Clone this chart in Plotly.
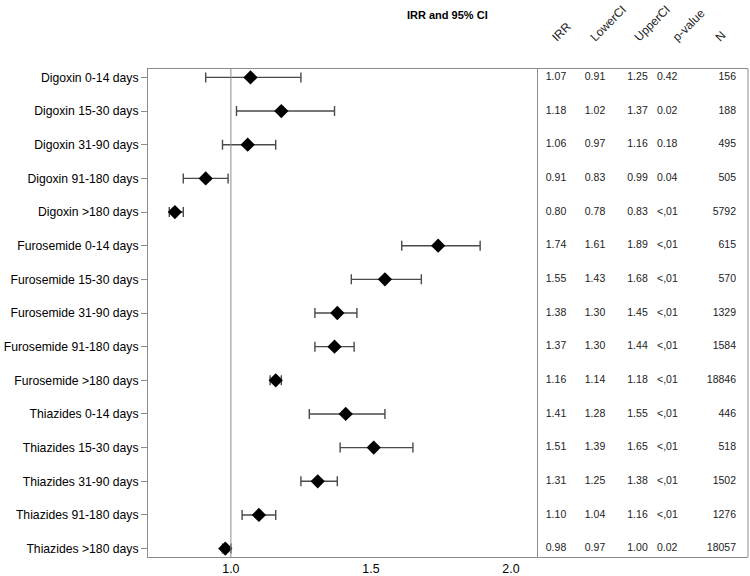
import plotly.graph_objects as go

labels = ["Digoxin 0-14 days", "Digoxin 15-30 days", "Digoxin 31-90 days",
          "Digoxin 91-180 days", "Digoxin >180 days",
          "Furosemide 0-14 days", "Furosemide 15-30 days", "Furosemide 31-90 days",
          "Furosemide 91-180 days", "Furosemide >180 days",
          "Thiazides 0-14 days", "Thiazides 15-30 days", "Thiazides 31-90 days",
          "Thiazides 91-180 days", "Thiazides >180 days"]
irr = [1.07, 1.18, 1.06, 0.91, 0.80, 1.74, 1.55, 1.38, 1.37, 1.16, 1.41, 1.51, 1.31, 1.10, 0.98]
lower = [0.91, 1.02, 0.97, 0.83, 0.78, 1.61, 1.43, 1.30, 1.30, 1.14, 1.28, 1.39, 1.25, 1.04, 0.97]
upper = [1.25, 1.37, 1.16, 0.99, 0.83, 1.89, 1.68, 1.45, 1.44, 1.18, 1.55, 1.65, 1.38, 1.16, 1.00]
pval = ["0.42", "0.02", "0.18", "0.04", "<,01", "<,01", "<,01", "<,01", "<,01", "<,01",
        "<,01", "<,01", "<,01", "<,01", "0.02"]
n_obs = [156, 188, 495, 505, 5792, 615, 570, 1329, 1584, 18846, 446, 518, 1502, 1276, 18057]
headers = ["IRR", "LowerCI", "UpperCI", "p-value", "N"]
xticks = [1.0, 1.5, 2.0]

W, H = 750, 576
FONT = "Liberation Sans, Arial, sans-serif"
GRAY = "#8c8c8c"
L, R, T, B = 148, 537, 69, 557
R2 = 748

def px(x):
    return x / W

def py(y):
    return 1 - y / H

fig = go.Figure()

fig.add_trace(go.Scatter(
    x=irr, y=labels, mode="markers",
    marker=dict(symbol="diamond", size=11, color="black"),
    error_x=dict(type="data", symmetric=False,
                 array=[u - v for u, v in zip(upper, irr)],
                 arrayminus=[v - lo for v, lo in zip(irr, lower)],
                 color="#4a4a4a", thickness=1.4, width=5),
    xaxis="x", yaxis="y", showlegend=False, hoverinfo="skip"))

tfont = dict(family=FONT, size=10.5, color="#222")
cols = [
    ([f"{v:.2f}" for v in irr], 556, "middle center"),
    ([f"{v:.2f}" for v in lower], 595, "middle center"),
    ([f"{v:.2f}" for v in upper], 637.5, "middle center"),
    (pval, 657, "middle right"),
    ([str(v) for v in n_obs], 736, "middle left"),
]
for texts, xc, pos in cols:
    fig.add_trace(go.Scatter(
        x=[xc] * len(labels), y=labels, mode="text", text=texts,
        textposition=pos, textfont=tfont, xaxis="x2", yaxis="y",
        showlegend=False, hoverinfo="skip", cliponaxis=False))

fig.update_layout(
    width=W, height=H, margin=dict(l=0, r=0, t=0, b=0),
    paper_bgcolor="white", plot_bgcolor="white",
    font=dict(family=FONT, size=12, color="black"),
    xaxis=dict(domain=[px(L), px(R)], range=[0.704, 2.093], anchor="y",
               tickvals=xticks, ticktext=[f"{v:.1f}" for v in xticks],
               showgrid=False, zeroline=False, showline=True, linecolor=GRAY,
               linewidth=1, mirror=True, ticks="", tickfont=dict(size=12.4)),
    xaxis2=dict(domain=[px(R), px(R2)], range=[R, R2], anchor="y",
                showgrid=False, zeroline=False, showticklabels=False,
                showline=True, linecolor=GRAY, linewidth=1, mirror=True, ticks=""),
    yaxis=dict(domain=[py(B), py(T)], range=[14.25, -0.25], anchor="x",
               type="category", categoryorder="array", categoryarray=labels,
               showgrid=False, zeroline=False, showline=True, linecolor=GRAY,
               linewidth=1, mirror=True, ticks="outside", ticklen=6,
               tickcolor=GRAY, tickfont=dict(size=12.2)),
)

# frame edge of table panel
fig.add_shape(type="line", xref="paper", yref="paper",
              x0=px(R2), x1=px(R2), y0=py(B), y1=py(T),
              line=dict(color=GRAY, width=1))
# reference line at 1.0
fig.add_shape(type="line", xref="x", yref="paper", x0=1.0, x1=1.0,
              y0=py(B), y1=py(T), line=dict(color=GRAY, width=1))

fig.add_annotation(text="<b>IRR and 95% CI</b>", xref="paper", yref="paper",
                   x=px(447), y=py(7), showarrow=False,
                   font=dict(size=11, family=FONT, color="black"))

hx = [546, 585, 629, 667, 710]
for h, x in zip(headers, hx):
    fig.add_annotation(text=h, xref="paper", yref="paper", x=px(x), y=py(47),
                       xanchor="left", yanchor="bottom", textangle=-45,
                       showarrow=False, font=dict(size=12, family=FONT, color="#222"))

fig.write_html("out.html", config={"displayModeBar": False},
               post_script="document.body.style.margin='0px';")
